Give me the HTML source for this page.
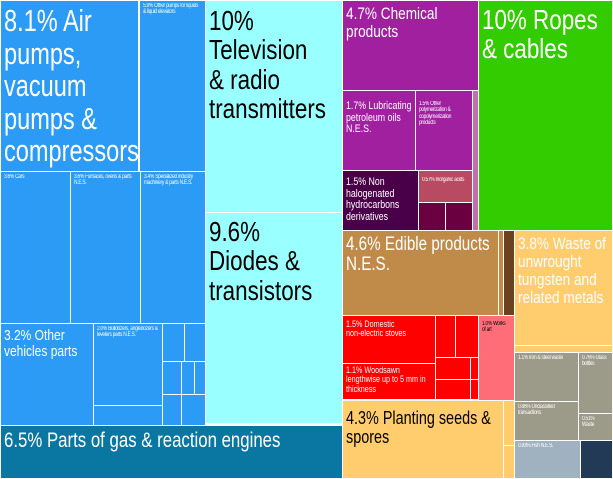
<!DOCTYPE html><html><head><style>
body{margin:0;width:613px;height:479px;overflow:hidden;background:#fff;position:relative;font-family:"Liberation Sans",sans-serif;}
div{position:absolute;box-sizing:border-box;border:1px solid #fff;overflow:hidden;line-height:1.05;padding:2px 3px;color:#fff;}
div span{display:block;width:124%;transform:scaleX(0.8);transform-origin:0 0;white-space:normal}
.k span{white-space:nowrap;width:auto}
.b{background:#2b9bf5}.c{background:#99ffff;color:#000}.p{background:#a020a0}.r{background:#ff0000}.g{background:#9c9a88}.y{background:#ffcc6e;color:#000}
.s{font-size:6px;letter-spacing:-0.3px}
</style></head><body>
<div class="b k" style="left:0;top:0;width:139px;height:172px;font-size:31px;padding-top:4px"><span style="transform:scaleX(0.76)">8.1% Air<br>pumps,<br>vacuum<br>pumps &amp;<br>compressors</span></div>
<div class="b s" style="left:139px;top:0;width:67px;height:172px"><span>5.9% Other pumps for liquids &amp; liquid elevators</span></div>
<div class="c k" style="left:205px;top:0;width:138px;height:213px;font-size:28px;padding-top:5px"><span>10%<br>Television<br>&amp; radio<br>transmitters</span></div>
<div class="c k" style="left:205px;top:212px;width:138px;height:212px;font-size:28px;padding-top:4px"><span>9.6%<br>Diodes &amp;<br>transistors</span></div>
<div class="b s" style="left:0;top:171px;width:71px;height:153px"><span>3.6% Cars</span></div>
<div class="b s" style="left:70px;top:171px;width:71px;height:153px"><span>3.6% Furnaces, ovens &amp; parts N.E.S.</span></div>
<div class="b s" style="left:140px;top:171px;width:66px;height:153px"><span>3.4% Specialized industry machinery &amp; parts N.E.S.</span></div>
<div class="b k" style="left:0;top:323px;width:94px;height:103px;font-size:15px;padding-top:4px"><span>3.2% Other<br>vehicles parts</span></div>
<div class="b s" style="left:93px;top:323px;width:70px;height:83px"><span>2.0% Bulldozers, angledozers &amp; levelers parts N.E.S.</span></div>
<div class="b" style="left:93px;top:405px;width:70px;height:21px"></div>
<div class="b" style="left:162px;top:323px;width:23px;height:39px"></div>
<div class="b" style="left:184px;top:323px;width:22px;height:39px"></div>
<div class="b" style="left:162px;top:361px;width:20px;height:34px"></div>
<div class="b" style="left:181px;top:361px;width:14px;height:34px"></div>
<div class="b" style="left:194px;top:361px;width:12px;height:34px"></div>
<div class="b" style="left:162px;top:394px;width:20px;height:32px"></div>
<div class="b" style="left:181px;top:394px;width:25px;height:32px"></div>
<div class="k" style="left:0;top:425px;width:343px;height:54px;background:#0a77a3;font-size:21px;padding-top:4px"><span>6.5% Parts of gas &amp; reaction engines</span></div>
<div class="p k" style="left:342px;top:0;width:137px;height:91px;font-size:17px;padding-top:4px"><span>4.7% Chemical<br>products</span></div>
<div class="p k" style="left:342px;top:90px;width:74px;height:81px;font-size:11px;padding-top:10px"><span>1.7% Lubricating<br>petroleum oils<br>N.E.S.</span></div>
<div class="p s" style="left:415px;top:90px;width:58px;height:81px;padding-top:10px"><span>1.5% Other polymerization &amp; copolymerization products</span></div>
<div style="left:472px;top:90px;width:7px;height:141px;background:#c070b0"></div>
<div class="k" style="left:342px;top:170px;width:77px;height:61px;background:#4a0048;font-size:11px;padding-top:6px"><span>1.5% Non<br>halogenated<br>hydrocarbons<br>derivatives</span></div>
<div class="s" style="left:418px;top:170px;width:55px;height:33px;background:#b84a62;padding-top:6px"><span>0.57% Inorganic acids</span></div>
<div style="left:418px;top:202px;width:28px;height:29px;background:#6a0040"></div>
<div style="left:445px;top:202px;width:28px;height:29px;background:#6a0040"></div>
<div class="k" style="left:478px;top:0;width:135px;height:231px;background:#33cc00;font-size:28px;padding-top:4px"><span>10% Ropes<br>&amp; cables</span></div>
<div class="k" style="left:342px;top:230px;width:157px;height:86px;background:#c08a48;font-size:19px;padding-top:4px"><span>4.6% Edible products<br>N.E.S.</span></div>
<div style="left:498px;top:230px;width:6px;height:86px;background:#c08a48"></div>
<div style="left:503px;top:230px;width:12px;height:86px;background:#6b4220"></div>
<div class="y k" style="left:514px;top:230px;width:99px;height:116px;font-size:17px;color:#fff;padding-top:4px"><span>3.8% Waste of<br>unwrought<br>tungsten and<br>related metals</span></div>
<div class="r k" style="left:342px;top:315px;width:94px;height:49px;font-size:9px;padding-top:4px"><span>1.5% Domestic<br>non-electric stoves</span></div>
<div class="r" style="left:435px;top:315px;width:21px;height:43px"></div>
<div class="r" style="left:455px;top:315px;width:24px;height:43px"></div>
<div class="r" style="left:435px;top:357px;width:36px;height:23px"></div>
<div class="r" style="left:470px;top:357px;width:9px;height:23px"></div>
<div class="r" style="left:435px;top:379px;width:36px;height:21px"></div>
<div class="r" style="left:470px;top:379px;width:9px;height:21px"></div>
<div class="r k" style="left:342px;top:363px;width:94px;height:37px;font-size:9px;padding-top:2px"><span>1.1% Woodsawn<br>lengthwise up to 5 mm in<br>thickness</span></div>
<div class="s k" style="left:478px;top:315px;width:37px;height:86px;background:#ff6d78;color:#000;padding-top:5px"><span>1.0% Works<br>of art</span></div>
<div class="y k" style="left:342px;top:400px;width:162px;height:79px;font-size:18px;padding-top:8px"><span>4.3% Planting seeds &amp;<br>spores</span></div>
<div class="y" style="left:503px;top:400px;width:12px;height:46px"></div>
<div class="y" style="left:503px;top:445px;width:12px;height:34px"></div>
<div class="y" style="left:514px;top:345px;width:99px;height:8px"></div>
<div class="g s" style="left:514px;top:352px;width:65px;height:50px"><span>1.1% Iron &amp; steel waste</span></div>
<div class="g s k" style="left:578px;top:352px;width:35px;height:62px"><span>0.76% Glass<br>bottles</span></div>
<div class="g s k" style="left:514px;top:401px;width:65px;height:40px"><span>0.86% Unclassified<br>transactions</span></div>
<div class="g s k" style="left:578px;top:413px;width:35px;height:28px"><span>0.51%<br>Waste</span></div>
<div class="s" style="left:514px;top:440px;width:67px;height:39px;background:#a0b2c0"><span>0.93% Fish N.E.S.</span></div>
<div style="left:580px;top:440px;width:33px;height:39px;background:#223a55"></div>
</body></html>
